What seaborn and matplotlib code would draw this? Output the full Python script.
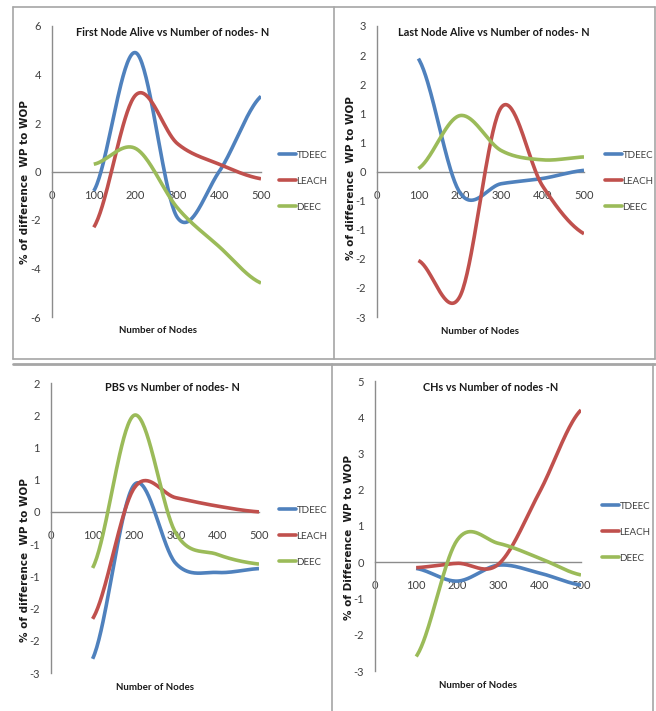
import numpy as np
import pandas as pd
import matplotlib
matplotlib.use("Agg")
import matplotlib.pyplot as plt
from matplotlib.lines import Line2D
from matplotlib.ticker import FuncFormatter, MultipleLocator
import seaborn as sns

# Node counts on the x axis
nodes = [100, 200, 300, 400, 500]
series_names = ["TDEEC", "LEACH", "DEEC"]

# % of difference WP to WOP for each metric
fna_tdeec = [-0.8, 4.9, -1.9, 0.0, 3.1]
fna_leach = [-2.3, 3.15, 1.15, 0.3, -0.3]
fna_deec = [0.3, 0.95, -1.5, -3.1, -4.6]

lna_tdeec = [1.94, -0.36, -0.21, -0.12, 0.02]
lna_leach = [-1.53, -2.15, 1.1, -0.25, -1.07]
lna_deec = [0.05, 0.96, 0.36, 0.2, 0.25]

pbs_tdeec = [-2.28, 0.42, -0.8, -0.94, -0.88]
pbs_leach = [-1.66, 0.37, 0.22, 0.09, 0.0]
pbs_deec = [-0.87, 1.5, -0.33, -0.66, -0.81]

chs_tdeec = [-0.17, -0.52, -0.08, -0.3, -0.63]
chs_leach = [-0.15, -0.03, -0.05, 1.95, 4.2]
chs_deec = [-2.6, 0.62, 0.52, 0.11, -0.35]

titles = ["First Node Alive vs Number of nodes- N",
          "Last Node Alive vs Number of nodes- N",
          "PBS vs Number of nodes- N",
          "CHs vs Number of nodes -N"]
ylabels = ["% of difference  WP to WOP", "% of difference  WP to WOP",
           "% of difference  WP to WOP", "% of Difference  WP to WOP"]
xlabel = "Number of Nodes"

colors = {"TDEEC": "#4F81BD", "LEACH": "#C0504D", "DEEC": "#9BBB59"}

W, H = 656, 711
sns.set_style("white")
plt.rcParams["font.family"] = ["Lato", "DejaVu Sans"]
plt.rcParams["axes.unicode_minus"] = False

fig = plt.figure(figsize=(W / 100, H / 100), dpi=100)


def smooth(xs, ys, n=40):
    """Smoothed line through the points (cardinal spline, as in office charts)."""
    xs = np.asarray(xs, float)
    ys = np.asarray(ys, float)
    k = len(ys)
    m = np.empty(k)
    m[0] = (ys[1] - ys[0]) / 2
    m[-1] = (ys[-1] - ys[-2]) / 2
    m[1:-1] = (ys[2:] - ys[:-2]) / 2
    out_x, out_y = [], []
    for i in range(k - 1):
        t = np.linspace(0, 1, n, endpoint=(i == k - 2))
        h00 = 2 * t**3 - 3 * t**2 + 1
        h10 = t**3 - 2 * t**2 + t
        h01 = -2 * t**3 + 3 * t**2
        h11 = t**3 - t**2
        out_y.append(h00 * ys[i] + h10 * m[i] + h01 * ys[i + 1] + h11 * m[i + 1])
        out_x.append(xs[i] + t * (xs[i + 1] - xs[i]))
    return np.concatenate(out_x), np.concatenate(out_y)


def px_axes(x0, x1, ytop, ybot):
    return fig.add_axes([x0 / W, 1 - ybot / H, (x1 - x0) / W, (ybot - ytop) / H])


def fig_xy(x, y):
    return x / W, 1 - y / H


def round_label(v, pos):
    r = int(np.sign(v) * np.floor(abs(v) + 0.5 + 1e-9))
    return f"{r}"


panels = [
    dict(box=(52, 261, 26, 317), ylim=(-6, 6), step=2,
         data=[fna_tdeec, fna_leach, fna_deec],
         title_xy=(173, 33), ylab_xy=(25, 182), xlab_xy=(158, 331),
         leg_xy=(279, 157)),
    dict(box=(377, 584, 26, 317), ylim=(-2.5, 2.5), step=0.5,
         data=[lna_tdeec, lna_leach, lna_deec],
         title_xy=(494, 33), ylab_xy=(351, 178), xlab_xy=(480, 332),
         leg_xy=(605, 157)),
    dict(box=(51, 259, 383, 673), ylim=(-2.5, 2.0), step=0.5,
         data=[pbs_tdeec, pbs_leach, pbs_deec],
         title_xy=(172, 388), ylab_xy=(25, 560), xlab_xy=(155, 687),
         leg_xy=(279, 512)),
    dict(box=(375, 581, 381, 671), ylim=(-3, 5), step=1,
         data=[chs_tdeec, chs_leach, chs_deec],
         title_xy=(491, 388), ylab_xy=(349, 538), xlab_xy=(478, 685),
         leg_xy=(602, 508)),
]

axis_gray = "#8C8C8C"
text_gray = "#404040"
title_c = "#1a1a1a"

for i, p in enumerate(panels):
    ax = px_axes(*p["box"])
    frames = []
    for name, vals in zip(series_names, p["data"]):
        sx, sy = smooth(nodes, vals)
        frames.append(pd.DataFrame({"x": sx, "y": sy, "series": name}))
    df = pd.concat(frames, ignore_index=True)
    sns.lineplot(data=df, x="x", y="y", hue="series", palette=colors,
                 estimator=None, sort=False, linewidth=2.6, legend=False,
                 ax=ax, solid_capstyle="butt")

    ax.set_xlim(0, 500)
    ax.set_ylim(*p["ylim"])
    ax.set_xticks([0, 100, 200, 300, 400, 500])
    ax.yaxis.set_major_locator(MultipleLocator(p["step"]))
    ax.yaxis.set_major_formatter(FuncFormatter(round_label))
    ax.set_xlabel("")
    ax.set_ylabel("")
    for s in ["top", "right"]:
        ax.spines[s].set_visible(False)
    ax.spines["bottom"].set_position(("data", 0))
    ax.spines["bottom"].set_zorder(0)
    for s in ["left", "bottom"]:
        ax.spines[s].set_color(axis_gray)
        ax.spines[s].set_linewidth(1.0)
    ax.tick_params(axis="both", which="major", length=4, width=1.0,
                   color=axis_gray, labelsize=8, labelcolor=text_gray,
                   direction="out", pad=4)
    ax.tick_params(axis="x", pad=9)
    ax.patch.set_alpha(0)

    # chart title, axis titles
    tx, ty = fig_xy(*p["title_xy"])
    fig.text(tx, ty, titles[i], ha="center", va="center", fontsize=7.8,
             fontweight="bold", color=title_c)
    yx, yy = fig_xy(*p["ylab_xy"])
    fig.text(yx, yy, ylabels[i], ha="center", va="center", rotation=90,
             fontsize=7.5, fontweight="bold", color=title_c,
             family="DejaVu Sans")
    xx, xy = fig_xy(*p["xlab_xy"])
    fig.text(xx, xy, xlabel, ha="center", va="center", fontsize=7,
             fontweight="bold", color=title_c)

    # legend to the right of the plot
    lx, ly = fig_xy(*p["leg_xy"])
    handles = [Line2D([], [], color=colors[n], lw=2.6) for n in series_names]
    ax.legend(handles, series_names, loc="upper left",
              bbox_to_anchor=(lx, ly + 0.009),
              bbox_transform=fig.transFigure, frameon=False, fontsize=7,
              handlelength=1.75, handletextpad=0.05, labelspacing=1.75,
              borderpad=0, borderaxespad=0, labelcolor=text_gray)

# panel frames
frame_c = "#A6A6A6"


def hline(y, x0, x1, lw=1.2):
    fig.add_artist(Line2D([x0 / W, x1 / W], [1 - y / H, 1 - y / H],
                          color=frame_c, lw=lw, transform=fig.transFigure))


def vline(x, y0, y1, lw=1.2):
    fig.add_artist(Line2D([x / W, x / W], [1 - y0 / H, 1 - y1 / H],
                          color=frame_c, lw=lw, transform=fig.transFigure))


hline(7, 13, 655)
hline(359, 13, 655)
vline(13, 7, 359)
vline(334, 7, 359)
vline(655, 7, 359)
hline(364, 13, 655, lw=2.0)
vline(332, 364, 711)
vline(653, 364, 711)

fig.savefig("out.png", dpi=100, facecolor="white")
